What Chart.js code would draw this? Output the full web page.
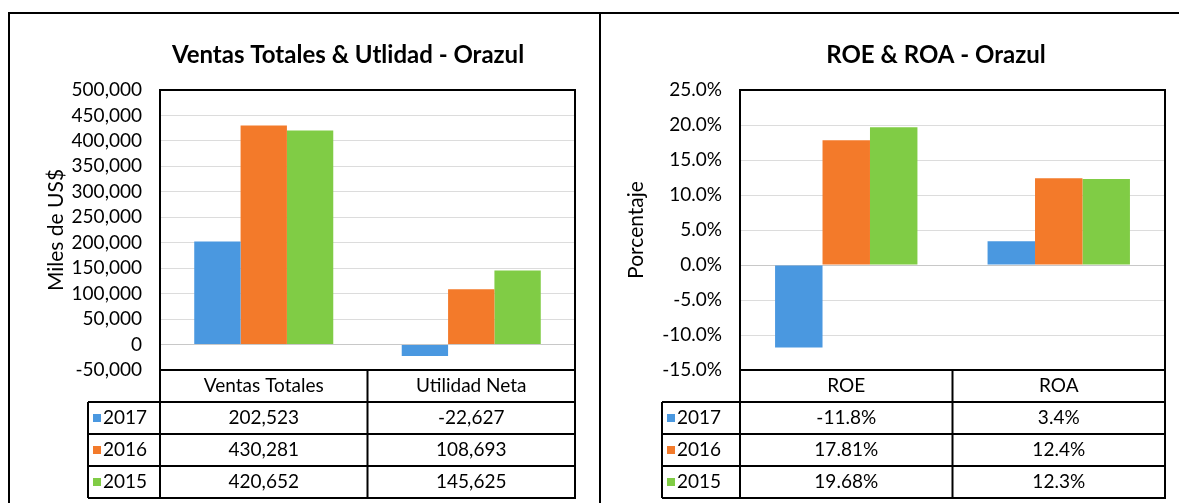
<!DOCTYPE html>
<html lang="es">
<head>
<meta charset="UTF-8">
<title>Orazul</title>
<script src="https://cdn.jsdelivr.net/npm/chart.js"></script>
<style>
  body { margin: 0; background: #fff; width: 1179px; height: 503px; overflow: hidden; position: relative; }
  .panel { position: absolute; top: 0; height: 503px; }
  #left { left: 0; width: 600px; }
  #right { left: 600px; width: 579px; }
  #frame { position: absolute; left: 8px; top: 12px; width: 1200px; height: 600px;
           border-left: 2px solid #000; border-top: 2px solid #000; pointer-events: none; }
  #sep { position: absolute; left: 599px; top: 12px; width: 2px; height: 491px; background: #000; }
</style>
</head>
<body>
<div class="panel" id="left"><canvas id="ventas"></canvas></div>
<div class="panel" id="right"><canvas id="ratios"></canvas></div>
<div id="frame"></div>
<div id="sep"></div>
<script>
// datos
const years = ['2017', '2016', '2015'];
const colors = ['#4a98e0', '#f37a2a', '#80cc45'];

const ventasCats = ['Ventas Totales', 'Utilidad Neta'];
const ventas2017 = [202523, -22627];
const ventas2016 = [430281, 108693];
const ventas2015 = [420652, 145625];

const ratioCats = ['ROE', 'ROA'];
const ratios2017 = [-11.8, 3.4];
const ratios2016 = [17.81, 12.4];
const ratios2015 = [19.68, 12.3];

const FONT = 'Lato';
Chart.defaults.font.family = FONT;
Chart.defaults.color = '#000';

// titulo + tabla de datos debajo del area del grafico
const dataTable = {
  id: 'dataTable',
  afterDraw(chart, args, opts) {
    const { ctx, chartArea: a } = chart;
    const rowH = 32;
    const cats = chart.data.labels;
    const sets = chart.data.datasets;
    const colW = (a.right - a.left) / cats.length;
    const lx = a.left - opts.legendWidth;
    const bottom = a.bottom + rowH * (sets.length + 1);
    ctx.save();

    ctx.fillStyle = '#000';
    ctx.font = 'bold 24px ' + FONT;
    ctx.textAlign = 'center';
    ctx.textBaseline = 'middle';
    ctx.fillText(opts.title, opts.titleX, 55);

    ctx.strokeStyle = '#000';
    ctx.lineWidth = 2;
    ctx.strokeRect(a.left, a.top, a.right - a.left, bottom - a.top);
    ctx.beginPath();
    ctx.moveTo(a.left, a.bottom); ctx.lineTo(a.right, a.bottom);
    for (let j = 1; j <= sets.length; j++) {
      ctx.moveTo(lx, a.bottom + rowH * j); ctx.lineTo(a.right, a.bottom + rowH * j);
    }
    ctx.moveTo(lx, bottom); ctx.lineTo(a.left, bottom);
    ctx.moveTo(lx, a.bottom + rowH); ctx.lineTo(lx, bottom);
    for (let i = 1; i < cats.length; i++) {
      ctx.moveTo(a.left + colW * i, a.bottom); ctx.lineTo(a.left + colW * i, bottom);
    }
    ctx.stroke();

    ctx.font = '19px ' + FONT;
    ctx.fillStyle = '#000';
    cats.forEach((c, i) => ctx.fillText(c, a.left + colW * (i + 0.5), a.bottom + rowH / 2));
    sets.forEach((ds, j) => {
      const y = a.bottom + rowH * (j + 1.5);
      ctx.fillStyle = ds.backgroundColor;
      ctx.fillRect(lx + 5, y - 4, 8, 8);
      ctx.fillStyle = '#000';
      ctx.textAlign = 'left';
      ctx.fillText(ds.label, lx + 15, y);
      ctx.textAlign = 'center';
      ds.data.forEach((v, i) => ctx.fillText(opts.fmt(v), a.left + colW * (i + 0.5), y));
    });
    ctx.restore();
  }
};

function makeChart(id, cats, series, yOpts, table, pad) {
  return new Chart(document.getElementById(id), {
    type: 'bar',
    data: {
      labels: cats,
      datasets: series.map((d, i) => ({
        label: years[i], data: d, backgroundColor: colors[i],
        categoryPercentage: 0.67, barPercentage: 1.0
      }))
    },
    options: {
      responsive: true,
      maintainAspectRatio: false,
      animation: false,
      layout: { padding: pad },
      plugins: { legend: { display: false }, tooltip: { enabled: false }, dataTable: table },
      scales: {
        x: { display: false },
        y: Object.assign({
          border: { display: false },
          grid: { color: (c) => c.tick.value === 0 ? '#c8c8c8' : '#dcdcdc', drawTicks: false },
          afterFit: (s) => { s.width = 120; }
        }, yOpts)
      }
    },
    plugins: [dataTable]
  });
}

makeChart('ventas', ventasCats, [ventas2017, ventas2016, ventas2015], {
  min: -50000, max: 500000,
  ticks: { stepSize: 50000, autoSkip: false, padding: 18, font: { size: 19 },
           callback: (v) => v.toLocaleString('en-US') },
  title: { display: true, text: 'Miles de US$', font: { size: 21 } }
}, {
  title: 'Ventas Totales & Utlidad - Orazul', titleX: 348, legendWidth: 72,
  fmt: (v) => v.toLocaleString('en-US')
}, { left: 40, right: 25, top: 90, bottom: 133 });

makeChart('ratios', ratioCats, [ratios2017, ratios2016, ratios2015], {
  min: -15, max: 25,
  ticks: { stepSize: 5, autoSkip: false, padding: 18, font: { size: 19 },
           callback: (v) => v.toFixed(1) + '%' },
  title: { display: true, text: 'Porcentaje', font: { size: 21 } }
}, {
  title: 'ROE & ROA - Orazul', titleX: 336, legendWidth: 78,
  fmt: (v) => v + '%'
}, { left: 20, right: 14, top: 90, bottom: 133 });
</script>
</body>
</html>
